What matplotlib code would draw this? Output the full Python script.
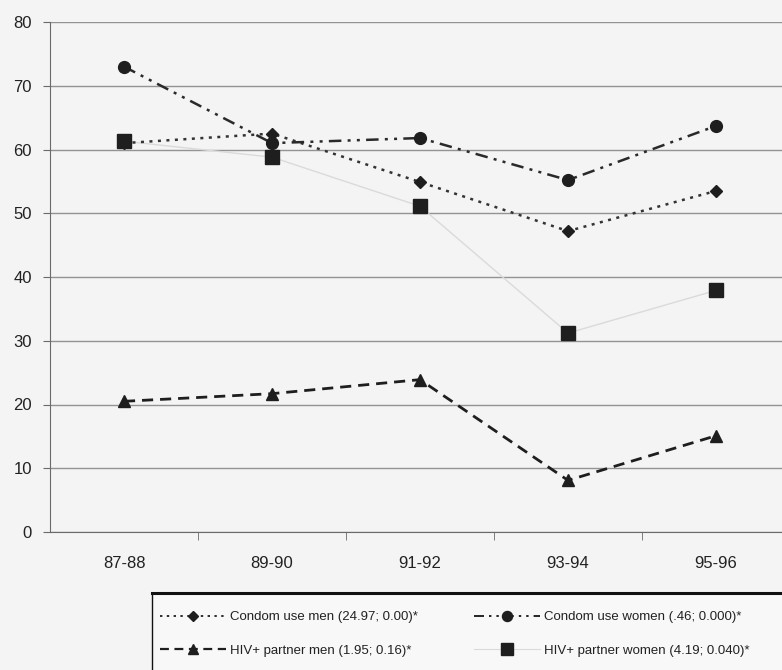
import matplotlib.pyplot as plt
from matplotlib.lines import Line2D
from matplotlib.patches import Rectangle

# periods on the x axis
PERIODS = ["87-88", "89-90", "91-92", "93-94", "95-96"]

# percentages per period
CONDOM_MEN = [61.0, 62.5, 54.9, 47.2, 53.5]
CONDOM_WOMEN = [73.0, 61.0, 61.8, 55.2, 63.7]
HIV_MEN = [20.5, 21.7, 23.9, 8.1, 15.1]
HIV_WOMEN = [61.3, 58.8, 51.1, 31.2, 37.9]

LABELS = [
    "Condom use men (24.97; 0.00)*",
    "HIV+ partner men (1.95; 0.16)*",
    "Condom use women (.46; 0.000)*",
    "HIV+ partner women (4.19; 0.040)*",
]

YTICKS = [0, 10, 20, 30, 40, 50, 60, 70, 80]

W, H = 782, 670
BG = "#f4f4f4"
INK = "#1e1e1e"

plt.rcParams["font.family"] = ["Liberation Sans", "DejaVu Sans"]

fig = plt.figure(figsize=(W / 100, H / 100), dpi=100, facecolor=BG)
# axes runs slightly past the right edge of the figure
ax = fig.add_axes([50 / W, (H - 532) / H, 740 / W, 510 / H], facecolor=BG)

x = list(range(len(PERIODS)))

styles = [
    dict(data=CONDOM_MEN, ls=(0, (1.2, 2.2)), lw=1.8, marker="D", ms=6.5, color="#333333", z=4),
    dict(data=HIV_MEN, ls=(0, (4, 2.5)), lw=2.0, marker="^", ms=9, color=INK, z=4),
    dict(data=CONDOM_WOMEN, ls=(0, (5, 2.5, 1.2, 2.5, 1.2, 2.5)), lw=1.8, marker="o", ms=8.5, color="#2a2a2a", z=4),
    dict(data=HIV_WOMEN, ls="-", lw=1.0, marker="s", ms=9.5, color="#dadada", z=3),
]

handles = []
for st, lab in zip(styles, LABELS):
    ax.plot(x, st["data"], linestyle=st["ls"], linewidth=st["lw"], color=st["color"],
            marker=st["marker"], markersize=st["ms"], markerfacecolor=INK,
            markeredgecolor=INK, zorder=st["z"])
    handles.append(Line2D([], [], linestyle=st["ls"], linewidth=st["lw"] * 0.8,
                          color=st["color"], marker=st["marker"],
                          markersize=st["ms"] * 0.85, markerfacecolor=INK,
                          markeredgecolor=INK, label=lab))

ax.set_xlim(-0.5, len(PERIODS) - 0.5)
ax.set_ylim(0, 80)
ax.set_yticks(YTICKS)
ax.set_xticks(x)
ax.set_xticklabels(PERIODS)
ax.set_xticks([i + 0.5 for i in x[:-1]], minor=True)

ax.yaxis.grid(True, color="#939393", linewidth=1.0)
ax.set_axisbelow(True)

for side in ["top", "right"]:
    ax.spines[side].set_visible(False)
ax.spines["left"].set_color("#6a6a6a")
ax.spines["bottom"].set_color("#6a6a6a")

ax.tick_params(axis="y", length=5, color="#6a6a6a", pad=8, labelsize=12, labelcolor="#222222")
ax.tick_params(axis="x", which="major", length=0, pad=17, labelsize=12, labelcolor="#222222")
ax.tick_params(axis="x", which="minor", length=6, color="#6a6a6a")

# legend frame, open to the right edge
fig.patches.append(Rectangle((152 / W, -0.05), 700 / W, (H - 593) / H + 0.05,
                             transform=fig.transFigure, facecolor="#f8f8f8",
                             edgecolor="#111111", linewidth=1.0))
fig.add_artist(Line2D([152 / W, 1.0], [(H - 593) / H] * 2, transform=fig.transFigure,
                      color="#111111", linewidth=2.2))

leg_opts = dict(loc="upper left", frameon=False, fontsize=9.5, handlelength=5.0,
                handletextpad=0.3, labelspacing=1.6, borderpad=0,
                borderaxespad=0, numpoints=1)
leg1 = fig.legend(handles=handles[:2], bbox_to_anchor=(160 / W, (H - 611) / H), **leg_opts)
leg2 = fig.legend(handles=handles[2:], bbox_to_anchor=(474 / W, (H - 611) / H), **leg_opts)
for leg in (leg1, leg2):
    for t in leg.get_texts():
        t.set_color("#222222")

fig.savefig("out.png", dpi=100, facecolor=BG)
